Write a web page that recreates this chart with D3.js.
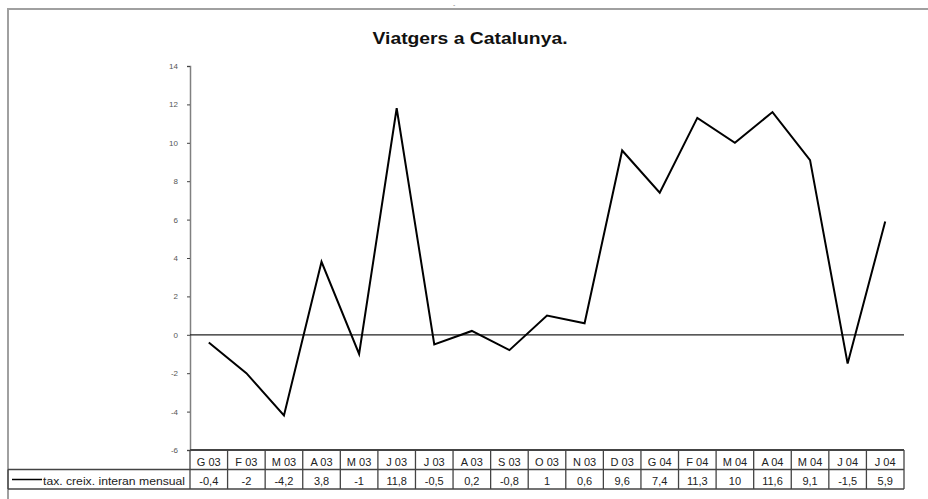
<!DOCTYPE html>
<meta charset="utf-8">
<script src="https://d3js.org/d3.v7.min.js"></script>
<style>
  body { margin: 0; background: #fff; }
  text { font-family: "Liberation Sans", Arial, sans-serif; }
</style>
<div id="my_dataviz"></div>
<script>

// data
var months = ["G 03","F 03","M 03","A 03","M 03","J 03","J 03","A 03","S 03","O 03","N 03","D 03",
              "G 04","F 04","M 04","A 04","M 04","J 04","J 04"]
var values = [-0.4, -2, -4.2, 3.8, -1, 11.8, -0.5, 0.2, -0.8, 1, 0.6, 9.6, 7.4, 11.3, 10, 11.6, 9.1, -1.5, 5.9]
var yTicks = [-6, -4, -2, 0, 2, 4, 6, 8, 10, 12, 14]
var seriesName = "tax. creix. interan mensual"

var width = 928, height = 499
var plotLeft = 190, plotRight = 904, plotTop = 66, plotBottom = 450

var svg = d3.select("#my_dataviz")
  .append("svg")
    .attr("width", width)
    .attr("height", height)

// outer chart frame (no right / bottom edge visible)
svg.append("path")
  .attr("d", "M8,499 L8,9 L928,9")
  .attr("fill", "none")
  .attr("stroke", "#a0a0a0")
  .attr("stroke-width", 2)

svg.append("text")
  .attr("x", 453).attr("y", 7)
  .attr("font-size", 7).attr("fill", "#888")
  .text("-")

// title
svg.append("text")
  .attr("x", 470).attr("y", 44)
  .attr("text-anchor", "middle")
  .attr("font-size", 17)
  .attr("font-weight", "bold")
  .attr("textLength", 195)
  .attr("lengthAdjust", "spacingAndGlyphs")
  .attr("fill", "#111")
  .text("Viatgers a Catalunya.")

// scales
var x = d3.scaleBand()
  .domain(d3.range(months.length))
  .range([plotLeft, plotRight])

var y = d3.scaleLinear()
  .domain([-6, 14])
  .range([plotBottom, plotTop])

// y axis
var yAxis = svg.append("g")
  .attr("transform", "translate(" + plotLeft + ",0)")
  .call(d3.axisLeft(y).tickValues(yTicks).tickSize(3).tickPadding(9))
yAxis.select(".domain").attr("stroke", "#808080").attr("stroke-width", 1.5)
yAxis.selectAll(".tick line").attr("stroke", "#444")
yAxis.selectAll("text")
  .attr("font-size", 8)
  .attr("fill", "#555")
  .attr("font-family", "Liberation Sans, Arial, sans-serif")
  .text(function(d){ return d })

// zero line
svg.append("line")
  .attr("x1", plotLeft).attr("x2", plotRight)
  .attr("y1", y(0)).attr("y2", y(0))
  .attr("stroke", "#222").attr("stroke-width", 1.2)

// series
var line = d3.line()
  .x(function(d, i){ return x(i) + x.bandwidth() / 2 })
  .y(function(d){ return y(d) })

svg.append("path")
  .datum(values)
  .attr("d", line)
  .attr("fill", "none")
  .attr("stroke", "#000")
  .attr("stroke-width", 2)
  .attr("stroke-linejoin", "miter")

// data table
var row1 = plotBottom, row2 = 469.5, row3 = 489
var grid = svg.append("g").attr("stroke", "#444").attr("stroke-width", 1.3)

grid.append("line").attr("x1", plotLeft).attr("x2", plotRight).attr("y1", row1).attr("y2", row1).attr("stroke-width", 1.8)
grid.append("line").attr("x1", 8).attr("x2", plotRight).attr("y1", row2).attr("y2", row2).attr("stroke-width", 1.6)
grid.append("line").attr("x1", 8).attr("x2", plotRight).attr("y1", row3).attr("y2", row3)
grid.append("line").attr("x1", 8).attr("x2", 8).attr("y1", row2).attr("y2", row3)
grid.selectAll(".vline")
  .data(d3.range(months.length + 1))
  .enter()
  .append("line")
    .attr("x1", function(d){ return plotLeft + d * x.step() })
    .attr("x2", function(d){ return plotLeft + d * x.step() })
    .attr("y1", row1).attr("y2", row3)

svg.selectAll(".mlabel")
  .data(months)
  .enter()
  .append("text")
    .attr("x", function(d, i){ return x(i) + x.bandwidth() / 2 })
    .attr("y", 466)
    .attr("text-anchor", "middle")
    .attr("font-size", 11)
    .attr("fill", "#222")
    .text(function(d){ return d })

svg.selectAll(".vlabel")
  .data(values)
  .enter()
  .append("text")
    .attr("x", function(d, i){ return x(i) + x.bandwidth() / 2 })
    .attr("y", 485)
    .attr("text-anchor", "middle")
    .attr("font-size", 11)
    .attr("fill", "#222")
    .text(function(d){ return String(d).replace(".", ",") })

// legend cell
svg.append("line")
  .attr("x1", 12).attr("x2", 42)
  .attr("y1", 479.5).attr("y2", 479.5)
  .attr("stroke", "#000").attr("stroke-width", 1.5)

svg.append("text")
  .attr("x", 43).attr("y", 485)
  .attr("font-size", 11)
  .attr("fill", "#222")
  .attr("textLength", 142)
  .attr("lengthAdjust", "spacingAndGlyphs")
  .text(seriesName)

</script>
